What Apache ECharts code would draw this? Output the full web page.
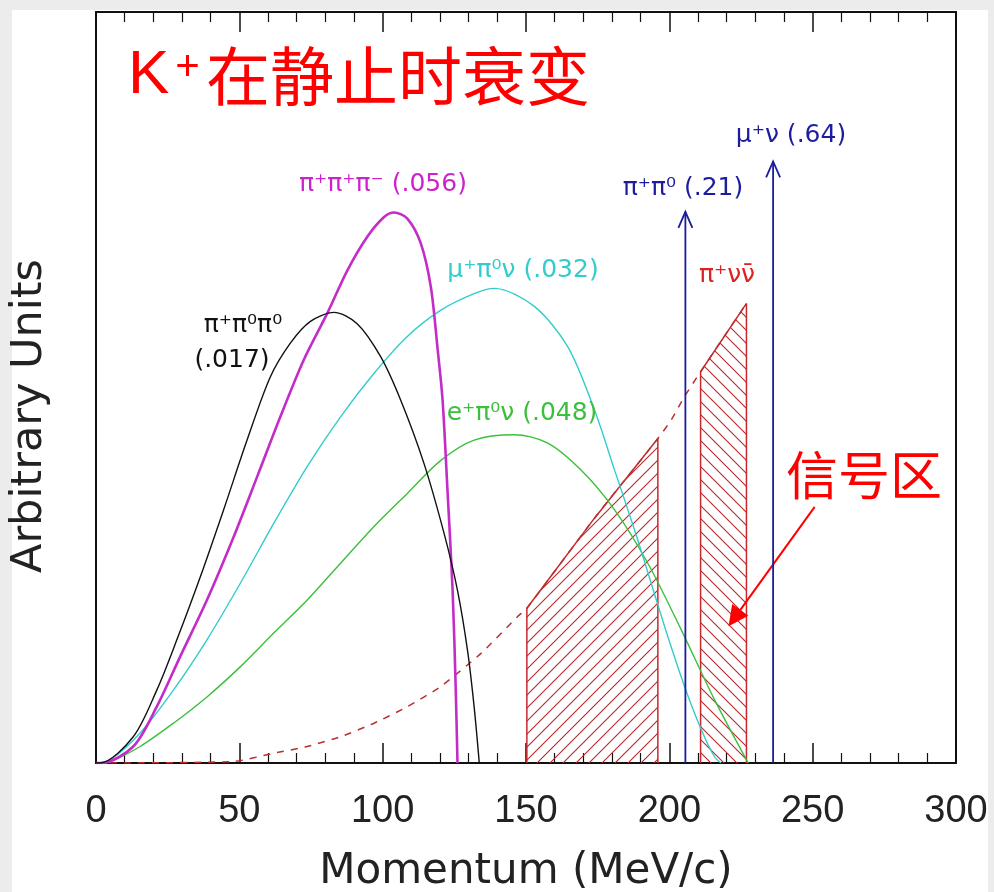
<!DOCTYPE html>
<html>
<head>
<meta charset="utf-8">
<title>K+ decay momentum spectra</title>
<script src="https://cdn.jsdelivr.net/npm/echarts@6/dist/echarts.min.js"></script>
<style>
  html, body { margin: 0; padding: 0; background: #ececec; }
  #chart { width: 994px; height: 892px; }
</style>
</head>
<body>
<div id="chart"></div>
<script>
  // x: momentum (MeV/c), y: arbitrary units (0..100 over full frame height)
  var xTicks = [0, 50, 100, 150, 200, 250, 300];

  var piPi0Pi0 = [[0, 0], [1.4, 0], [13, 3.5], [21.2, 9.7], [28.2, 16.4], [36.4, 24.8], [44.5, 33.7],
    [52.7, 43], [60.8, 51.4], [67.8, 55.9], [74.8, 58.8], [83, 60], [91.1, 58.5], [99.3, 54.1],
    [106.3, 48.3], [114.4, 39.9], [121.4, 30.6], [126.1, 23], [129.6, 15], [131.9, 7.5], [133.7, 0]];

  var piPiPi = [[0, 0], [1.9, 0], [13, 2.2], [21.2, 7.5], [29.4, 14.2], [38.7, 21.7], [48, 30.1],
    [56.2, 38.1], [64.3, 46.1], [72.5, 53.7], [80.7, 59.9], [87.7, 65.6], [94.7, 70.1], [100.5, 72.7],
    [104, 73.3], [108.6, 72.5], [113.3, 69.2], [116.8, 63.4], [119.2, 55], [120.9, 48.3],
    [122.6, 36.4], [124.4, 23], [125.5, 9.7], [126.1, 0]];

  var muPi0Nu = [[0, 0], [4.9, 0.4], [15.4, 4], [27, 9.7], [38.7, 16.4], [50.3, 23.9], [62, 31.9],
    [73.7, 39.5], [85.3, 46.1], [97, 51.9], [108.6, 56.8], [120.3, 60.3], [131.9, 62.5], [138.9, 63.2],
    [152.9, 60.8], [164.6, 55.4], [173.9, 47], [180.9, 39], [187.9, 31], [193.7, 23.9], [199.5, 16.8],
    [205.3, 10.2], [211.2, 4.4], [215.8, 0.8], [218, 0]];

  var ePi0Nu = [[0, 0], [4.9, 0.2], [15.4, 2.2], [27, 5.3], [38.7, 8.8], [50.3, 12.8], [62, 17.3],
    [73.7, 21.7], [85.3, 26.6], [97, 31.5], [108.6, 35.9], [120.3, 40.3], [131.9, 43], [145.9, 43.7],
    [157.6, 42.6], [169.2, 39], [180.9, 33.7], [192.5, 26.6], [204.2, 17.7], [215.8, 8.4], [227.5, 0]];

  var piNuNuBar = [[0, 0], [48, 0.2], [62, 1.3], [73.7, 2.2], [85.3, 3.5], [97, 5.3], [108.6, 7.5],
    [120.3, 10.2], [134.3, 14.6], [147.1, 19.5], [150.3, 20.6], [173.9, 32.6], [196, 43.2],
    [200.7, 45.7], [205.3, 48.8], [210.9, 52.1], [226.9, 61.2]];

  // signal regions (hatched)
  var region1 = [[150.3, 0], [150.3, 20.6], [173.9, 32.6], [196, 43.2], [196, 0]];
  var region2 = [[210.9, 0], [210.9, 52.1], [226.9, 61.2], [226.9, 0]];

  // two-body decay lines: pi+ pi0 and mu+ nu
  var twoBodyP = [205.6, 236.2];
  var twoBodyTop = [73.4, 80.1];

  // pointer for 信号区
  var pointerFrom = [250.7, 34.1];
  var pointerTo = [222.7, 19.3];

  function hatch(dir) {
    var s = 13;
    var c = document.createElement('canvas');
    c.width = s; c.height = s;
    var g = c.getContext('2d');
    g.strokeStyle = '#b8282c';
    g.lineWidth = 1.1;
    g.beginPath();
    if (dir > 0) {
      g.moveTo(0, s); g.lineTo(s, 0);
      g.moveTo(-2, 2); g.lineTo(2, -2);
      g.moveTo(s - 2, s + 2); g.lineTo(s + 2, s - 2);
    } else {
      g.moveTo(0, 0); g.lineTo(s, s);
      g.moveTo(s - 2, -2); g.lineTo(s + 2, 2);
      g.moveTo(-2, s - 2); g.lineTo(2, s + 2);
    }
    g.stroke();
    return c;
  }

  var chart = echarts.init(document.getElementById('chart'), null, {renderer: 'canvas'});

  var greek = '"DejaVu Sans", sans-serif';

  function curve(name, data, color, width, extra) {
    var s = {
      name: name,
      type: 'line',
      data: data,
      showSymbol: false,
      symbol: 'none',
      smooth: 0.3,
      lineStyle: {color: color, width: width},
      z: 5,
      animation: false
    };
    if (extra) {
      for (var k in extra) s[k] = extra[k];
    }
    return s;
  }

  function region(name, data, dir) {
    return {
      name: name,
      type: 'line',
      data: data,
      symbol: 'none',
      smooth: false,
      lineStyle: {color: '#c8282c', width: 1.5},
      areaStyle: {color: {image: hatch(dir), repeat: 'repeat'}, opacity: 1},
      z: 3,
      animation: false
    };
  }

  var option = {
    backgroundColor: '#ececec',
    animation: false,
    grid: {left: 96, right: 38, top: 12, bottom: 129, outerBoundsMode: 'none', containLabel: false},
    xAxis: [{
      type: 'value',
      min: 0, max: 300, interval: 50,
      position: 'bottom',
      axisLine: {show: true, onZero: false, lineStyle: {color: '#111', width: 2}},
      axisTick: {show: true, inside: true, length: 20, lineStyle: {color: '#111', width: 1.5}},
      minorTick: {show: true, splitNumber: 5, length: 10, lineStyle: {color: '#111', width: 1.2}},
      splitLine: {show: false},
      axisLabel: {
        show: true, margin: 30, color: '#222', fontSize: 38,
        fontFamily: '"Liberation Sans", Arial, sans-serif',
        formatter: function (v) { return xTicks.indexOf(v) >= 0 ? String(v) : ''; }
      },
      name: 'Momentum (MeV/c)',
      nameLocation: 'middle',
      nameGap: 88,
      nameTextStyle: {fontSize: 42, color: '#222', fontFamily: greek}
    }, {
      type: 'value',
      min: 0, max: 300, interval: 50,
      position: 'top',
      axisLine: {show: true, onZero: false, lineStyle: {color: '#111', width: 2}},
      axisTick: {show: true, inside: true, length: 20, lineStyle: {color: '#111', width: 1.5}},
      minorTick: {show: true, splitNumber: 5, length: 10, lineStyle: {color: '#111', width: 1.2}},
      splitLine: {show: false},
      axisLabel: {show: false}
    }],
    yAxis: [{
      type: 'value',
      min: 0, max: 100,
      position: 'left',
      axisLine: {show: true, onZero: false, lineStyle: {color: '#111', width: 2}},
      axisTick: {show: false},
      splitLine: {show: false},
      axisLabel: {show: false}
    }, {
      type: 'value',
      min: 0, max: 100,
      position: 'right',
      axisLine: {show: true, onZero: false, lineStyle: {color: '#111', width: 2}},
      axisTick: {show: false},
      splitLine: {show: false},
      axisLabel: {show: false}
    }],
    graphic: [
      {type: 'rect', shape: {x: 12, y: 10, width: 976, height: 882}, style: {fill: '#ffffff'}, z: -100, silent: true},
      {type: 'text', x: 30, y: 416, rotation: Math.PI / 2, z: 100,
        style: {text: 'Arbitrary Units', fill: '#222', font: '43px ' + greek, align: 'center', verticalAlign: 'middle'}},
      {
        type: 'text', left: 128, top: 44, z: 100,
        style: {
          text: '{k|K}{p|+}在静止时衰变',
          fill: '#ff0000',
          font: '64px "Noto Sans CJK SC", sans-serif',
          rich: {
            k: {fontSize: 62, fontFamily: '"Liberation Sans", Arial, sans-serif', fill: '#ff0000'},
            p: {fontSize: 42, fontFamily: '"Liberation Sans", Arial, sans-serif', fill: '#ff0000', padding: [0, 6, 16, 6]}
          }
        }
      },
      {type: 'text', x: 786, y: 475, z: 100,
        style: {text: '信号区', fill: '#ff0000', font: '52px "Noto Sans CJK SC", sans-serif', verticalAlign: 'middle'}},
      {type: 'text', x: 383, y: 184, z: 100,
        style: {text: 'π⁺π⁺π⁻ (.056)', fill: '#cc22cc', font: '25px ' + greek, align: 'center', verticalAlign: 'middle'}},
      {type: 'text', x: 523, y: 270, z: 100,
        style: {text: 'μ⁺π⁰ν (.032)', fill: '#33cccc', font: '25px ' + greek, align: 'center', verticalAlign: 'middle'}},
      {type: 'text', x: 522, y: 413, z: 100,
        style: {text: 'e⁺π⁰ν (.048)', fill: '#3cbf3c', font: '25px ' + greek, align: 'center', verticalAlign: 'middle'}},
      {type: 'text', x: 243, y: 325, z: 100,
        style: {text: 'π⁺π⁰π⁰', fill: '#111', font: '25px ' + greek, align: 'center', verticalAlign: 'middle'}},
      {type: 'text', x: 232, y: 360, z: 100,
        style: {text: '(.017)', fill: '#111', font: '25px ' + greek, align: 'center', verticalAlign: 'middle'}},
      {type: 'text', x: 683, y: 188, z: 100,
        style: {text: 'π⁺π⁰ (.21)', fill: '#1c1ca0', font: '25px ' + greek, align: 'center', verticalAlign: 'middle'}},
      {type: 'text', x: 791, y: 135, z: 100,
        style: {text: 'μ⁺ν (.64)', fill: '#1c1ca0', font: '25px ' + greek, align: 'center', verticalAlign: 'middle'}},
      {type: 'text', x: 727, y: 275, z: 100,
        style: {text: 'π⁺νν̄', fill: '#dd2222', font: '25px ' + greek, align: 'center', verticalAlign: 'middle'}}
    ],
    series: [
      region('region1', region1, 1),
      region('region2', region2, -1),
      curve('pi+nu nubar', piNuNuBar, '#b83030', 1.5, {
        smooth: 0.2,
        lineStyle: {color: '#b83030', width: 1.5, type: [7, 7]},
        z: 4,
        markLine: {
          silent: true,
          symbol: ['none', 'triangle'],
          symbolSize: 20,
          label: {show: false},
          lineStyle: {color: '#ff0000', width: 2, type: 'solid'},
          data: [[{coord: pointerFrom}, {coord: pointerTo}]]
        }
      }),
      curve('e+pi0nu', ePi0Nu, '#3cbf3c', 1.4),
      curve('mu+pi0nu', muPi0Nu, '#33cccc', 1.4),
      curve('pi+pi+pi-', piPiPi, '#c42cc8', 2.6),
      curve('pi+pi0pi0', piPi0Pi0, '#111111', 1.4),
      {
        name: 'two-body',
        type: 'custom',
        z: 6,
        data: twoBodyP.map(function (p, i) { return [p, twoBodyTop[i]]; }),
        renderItem: function (params, api) {
          var base = api.coord([api.value(0), 0]);
          var tip = api.coord([api.value(0), api.value(1)]);
          var st = {stroke: '#1c1ca0', lineWidth: 1.8, fill: null};
          return {
            type: 'group',
            children: [
              {type: 'line', shape: {x1: base[0], y1: base[1], x2: tip[0], y2: tip[1]}, style: st},
              {type: 'polyline', shape: {points: [[tip[0] - 7, tip[1] + 16], [tip[0], tip[1]], [tip[0] + 7, tip[1] + 16]]}, style: st}
            ]
          };
        },
        animation: false
      }
    ]
  };

  chart.setOption(option);
</script>
</body>
</html>
